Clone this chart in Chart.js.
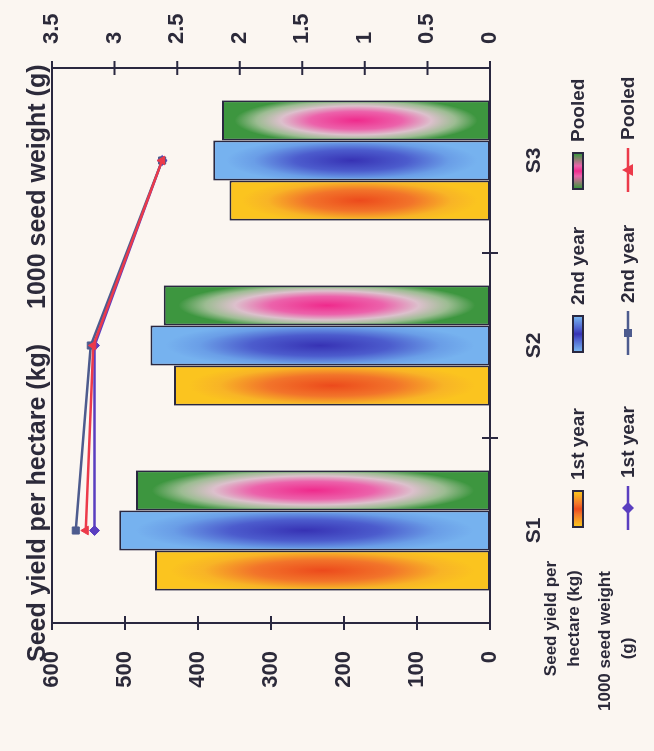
<!DOCTYPE html>
<html>
<head>
<meta charset="utf-8">
<script src="https://cdn.jsdelivr.net/npm/chart.js@4.4.1/dist/chart.umd.min.js"></script>
<style>
  html, body { margin: 0; padding: 0; background: #fbf6f1; }
  body { width: 654px; height: 751px; overflow: hidden; position: relative; }
  /* the whole figure is laid out landscape and turned a quarter turn */
  #sheet {
    position: absolute; left: 0; top: 0;
    width: 751px; height: 654px;
    transform-origin: 0 0;
    transform: translate(0px, 751px) rotate(-90deg);
    font-family: "Liberation Sans", Arial, sans-serif;
    font-weight: bold;
    color: #2c2a3a;
  }
  #chart { position: absolute; left: 0; top: 0; }
  .ttl { position: absolute; font-size: 25px; white-space: nowrap; line-height: 1; }
  .rowlab { position: absolute; font-size: 17px; text-align: center; line-height: 23px; white-space: nowrap; }
  .item { position: absolute; display: flex; align-items: center; font-size: 19px; white-space: nowrap; }
  .swatch { width: 38px; height: 12px; border: 2px solid #2a2840; box-sizing: border-box; margin-right: 10px; }
  .item svg { margin-right: 6px; }
</style>
</head>
<body>
<div id="sheet">
  <canvas id="chart" width="751" height="654"></canvas>
  <div class="ttl" id="t1" style="left:89px; top:24px;">Seed yield per hectare (kg)</div>
  <div class="ttl" id="t2" style="left:442px; top:24px;">1000 seed weight (g)</div>
  <div id="legend"></div>
</div>
<script>
// Treatments
const categories = ['S1', 'S2', 'S3'];
const seriesNames = ['1st year', '2nd year', 'Pooled'];

// Seed yield per hectare (kg)
const yield1st    = [459, 433, 357];
const yield2nd    = [508, 465, 379];
const yieldPooled = [485, 447, 367];

// 1000 seed weight (g)
const weight1st    = [3.16, 3.16, 2.62];
const weight2nd    = [3.31, 3.19, 2.62];
const weightPooled = [3.23, 3.17, 2.62];

// Axis ranges
const yieldTicks  = { min: 0, max: 600, step: 100 };
const weightTicks = { min: 0, max: 3.5, step: 0.5 };

const INK = '#2a2840';
const TEXT = '#2c2a3a';
const FONT = '"Liberation Sans", Arial, sans-serif';

// "from centre" fills: centre colour fading out to the edge colour
const barFills = [
  { edge: '#fbc41f', stops: [[0, '#ec4a1c'], [0.45, '#f2742a'], [0.78, '#f8b426'], [1, '#fbc41f']] },
  { edge: '#76b2ef', stops: [[0, '#3732b4'], [0.45, '#4c5ccd'], [0.78, '#6a9ee7'], [1, '#76b2ef']] },
  { edge: '#3d963f', stops: [[0, '#ef2a8c'], [0.38, '#ec62ab'], [0.62, '#dcc0cc'], [0.82, '#9cbc92'], [1, '#3d963f']] }
];
const lineColors = ['#5a3ec0', '#4d5b8e', '#ec3a4a'];
const lineMarkers = ['rectRot', 'rect', 'triangle'];

const centreGlow = {
  id: 'centreGlow',
  afterDatasetDraw(chart, args) {
    const ds = chart.data.datasets[args.index];
    if (ds.type !== 'bar') return;
    const fill = barFills[ds.fillIndex];
    const ctx = chart.ctx;
    const bw = ds.borderWidth;
    args.meta.data.forEach(el => {
      const p = el.getProps(['x', 'y', 'base', 'width'], true);
      const left = p.x - p.width / 2 + bw, right = p.x + p.width / 2 - bw;
      const top = Math.min(p.y, p.base) + bw, bottom = Math.max(p.y, p.base) - bw;
      const w = right - left, h = bottom - top;
      if (w <= 0 || h <= 0) return;
      ctx.save();
      ctx.beginPath();
      ctx.rect(left, top, w, h);
      ctx.clip();
      ctx.translate(left + w / 2, top + h / 2);
      ctx.scale(w / 2 * 1.3, h / 2 * 0.92);
      const g = ctx.createRadialGradient(0, 0, 0, 0, 0, 1);
      fill.stops.forEach(s => g.addColorStop(s[0], s[1]));
      ctx.fillStyle = g;
      ctx.fillRect(-1.2, -1.2, 2.4, 2.4);
      ctx.restore();
    });
  }
};

const frameAndTicks = {
  id: 'frameAndTicks',
  afterDatasetsDraw(chart) {
    const { ctx, chartArea: a, scales } = chart;
    ctx.save();
    ctx.strokeStyle = INK;
    ctx.lineWidth = 2;
    ctx.strokeRect(a.left, a.top, a.right - a.left, a.bottom - a.top);
    ctx.beginPath();
    scales.y.ticks.forEach(t => {
      const py = scales.y.getPixelForValue(t.value);
      ctx.moveTo(a.left - 7, py); ctx.lineTo(a.left + 7, py);
    });
    scales.y1.ticks.forEach(t => {
      const py = scales.y1.getPixelForValue(t.value);
      ctx.moveTo(a.right - 7, py); ctx.lineTo(a.right + 7, py);
    });
    for (let i = 0; i < categories.length - 1; i++) {
      const px = (scales.x.getPixelForValue(i) + scales.x.getPixelForValue(i + 1)) / 2;
      ctx.moveTo(px, a.bottom - 8); ctx.lineTo(px, a.bottom + 8);
    }
    ctx.stroke();
    ctx.restore();
  }
};

const yieldSeries = [yield1st, yield2nd, yieldPooled];
const weightSeries = [weight1st, weight2nd, weightPooled];

const datasets = [];
yieldSeries.forEach((vals, i) => {
  datasets.push({
    type: 'bar', label: seriesNames[i], data: vals, yAxisID: 'y', order: 2,
    fillIndex: i, backgroundColor: barFills[i].edge,
    borderColor: INK, borderWidth: 2, borderSkipped: false,
    barPercentage: 1.0, categoryPercentage: 0.65
  });
});
weightSeries.forEach((vals, i) => {
  datasets.push({
    type: 'line', label: seriesNames[i], data: vals, yAxisID: 'y1', order: 1 - i * 0.1,
    borderColor: lineColors[i], backgroundColor: lineColors[i], borderWidth: 2.5,
    pointStyle: lineMarkers[i], pointRadius: 5, pointBorderWidth: 1,
    tension: 0, fill: false
  });
});

const tickFont = { family: FONT, size: 22, weight: 'bold' };

new Chart(document.getElementById('chart'), {
  data: { labels: categories, datasets },
  options: {
    responsive: false,
    animation: false,
    devicePixelRatio: 1,
    layout: { padding: { top: 52, bottom: 104, left: 0, right: 0 } },
    plugins: { legend: { display: false }, tooltip: { enabled: false }, title: { display: false } },
    scales: {
      x: {
        grid: { display: false }, border: { display: false },
        ticks: { color: TEXT, font: { family: FONT, size: 21, weight: 'bold' }, padding: 24, maxRotation: 0 },
        afterFit: s => { s.height = 60; }
      },
      y: {
        position: 'left', min: yieldTicks.min, max: yieldTicks.max,
        grid: { display: false }, border: { display: false },
        ticks: { stepSize: yieldTicks.step, color: TEXT, font: tickFont, padding: 20 },
        afterFit: s => { s.width = 128; }
      },
      y1: {
        position: 'right', min: weightTicks.min, max: weightTicks.max,
        grid: { display: false }, border: { display: false },
        ticks: {
          stepSize: weightTicks.step, color: TEXT, font: tickFont, padding: 16,
          callback: v => String(Math.round(v * 10) / 10)
        },
        afterFit: s => { s.width = 68; }
      }
    }
  },
  plugins: [centreGlow, frameAndTicks]
});

// Two-row key: bars for yield, lines for seed weight
(function buildKey() {
  const key = document.getElementById('legend');
  const rowY = [578, 628];
  const itemX = [223, 398, 561];
  const lab1 = document.createElement('div');
  lab1.className = 'rowlab';
  lab1.style.cssText = 'left:70px; top:539px; width:125px;';
  lab1.innerHTML = 'Seed yield per<br>hectare (kg)';
  key.appendChild(lab1);
  const lab2 = document.createElement('div');
  lab2.className = 'rowlab';
  lab2.style.cssText = 'left:40px; top:593px; width:125px;';
  lab2.innerHTML = '1000 seed weight<br>(g)';
  key.appendChild(lab2);

  seriesNames.forEach((name, i) => {
    const bar = document.createElement('div');
    bar.className = 'item';
    bar.style.left = itemX[i] + 'px';
    bar.style.top = (rowY[0] - 7) + 'px';
    const sw = document.createElement('div');
    sw.className = 'swatch';
    const st = barFills[i].stops;
    sw.style.background = 'linear-gradient(90deg, ' + st[st.length - 1][1] + ', ' + st[1][1] + ' 35%, ' +
      st[0][1] + ' 50%, ' + st[1][1] + ' 65%, ' + st[st.length - 1][1] + ')';
    bar.appendChild(sw);
    bar.appendChild(document.createTextNode(name));
    bar.style.height = '14px';
    key.appendChild(bar);

    const ln = document.createElement('div');
    ln.className = 'item';
    ln.style.left = (itemX[i] - 2) + 'px';
    ln.style.top = (rowY[1] - 7) + 'px';
    ln.style.height = '14px';
    const c = lineColors[i];
    let marker;
    if (lineMarkers[i] === 'rectRot') marker = '<polygon points="22,1 28,7 22,13 16,7" fill="' + c + '"/>';
    else if (lineMarkers[i] === 'rect') marker = '<rect x="18" y="3" width="8" height="8" fill="' + c + '"/>';
    else marker = '<polygon points="22,1 28,12 16,12" fill="' + c + '"/>';
    ln.innerHTML = '<svg width="46" height="14" viewBox="0 0 46 14"><line x1="0" y1="7" x2="44" y2="7" stroke="' + c +
      '" stroke-width="2.5"/>' + marker + '</svg>';
    ln.appendChild(document.createTextNode(name));
    key.appendChild(ln);
  });
})();
</script>
</body>
</html>
